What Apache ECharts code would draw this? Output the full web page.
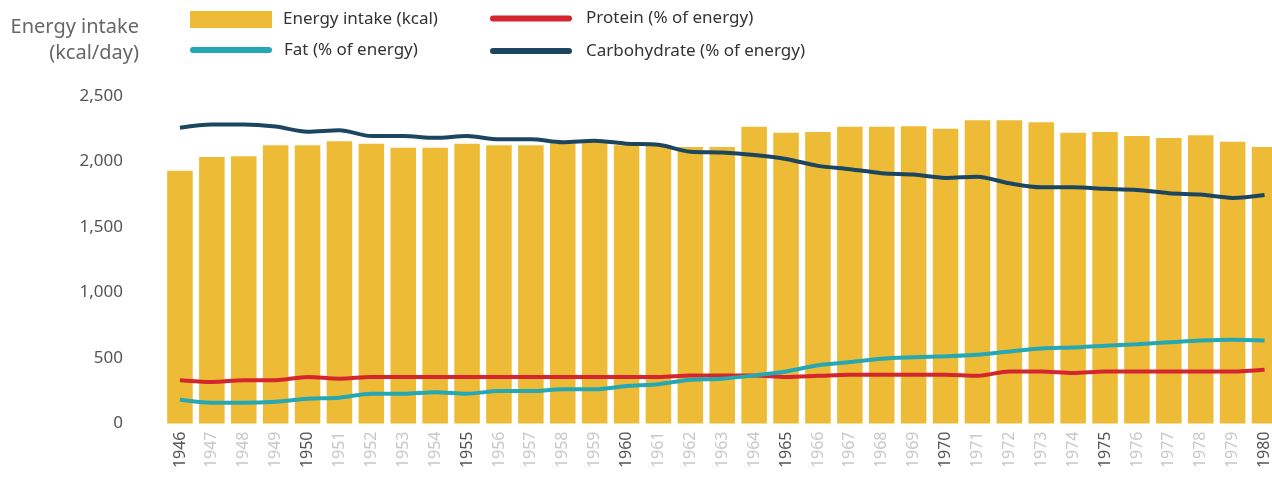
<!DOCTYPE html>
<html>
<head>
<meta charset="utf-8">
<script src="https://cdn.jsdelivr.net/npm/echarts@6/dist/echarts.min.js"></script>
<style>
html, body {margin: 0; padding: 0; background: #fff;}
#chart {width: 1272px; height: 491px;}
</style>
</head>
<body>
<div id="chart"></div>
<script>
// 年份
var years = ['1946', '1947', '1948', '1949', '1950', '1951', '1952', '1953', '1954', '1955',
    '1956', '1957', '1958', '1959', '1960', '1961', '1962', '1963', '1964', '1965',
    '1966', '1967', '1968', '1969', '1970', '1971', '1972', '1973', '1974', '1975',
    '1976', '1977', '1978', '1979', '1980'];
// kcal/day
var energy = [1930, 2035, 2040, 2125, 2125, 2155, 2135, 2105, 2105, 2135,
    2125, 2125, 2140, 2150, 2125, 2120, 2110, 2110, 2265, 2220,
    2225, 2265, 2265, 2270, 2250, 2315, 2315, 2300, 2220, 2225,
    2195, 2180, 2200, 2150, 2110];
// % of energy
var fat = [6.5, 5.7, 5.7, 6.0, 6.8, 7.1, 8.2, 8.2, 8.6, 8.2,
    8.9, 8.9, 9.4, 9.4, 10.3, 10.8, 12.0, 12.3, 13.2, 14.3,
    16.0, 16.9, 17.8, 18.2, 18.5, 18.9, 19.8, 20.6, 20.9, 21.4,
    21.8, 22.3, 22.8, 23.0, 22.8];
var protein = [11.9, 11.4, 11.9, 11.9, 12.8, 12.3, 12.8, 12.8, 12.8, 12.8,
    12.8, 12.8, 12.8, 12.8, 12.8, 12.8, 13.2, 13.2, 13.2, 12.8,
    13.1, 13.4, 13.4, 13.4, 13.4, 13.1, 14.3, 14.3, 13.9, 14.3,
    14.3, 14.3, 14.3, 14.3, 14.8];
var carbohydrate = [81.3, 82.2, 82.2, 81.6, 80.2, 80.6, 79.0, 79.0, 78.5, 79.0,
    78.1, 78.1, 77.3, 77.7, 76.9, 76.6, 74.7, 74.5, 73.8, 72.7,
    70.8, 69.9, 68.8, 68.4, 67.5, 67.8, 66.0, 64.9, 64.9, 64.5,
    64.2, 63.3, 62.9, 62.0, 62.8];

var FONT = '"Noto Sans", "Open Sans", sans-serif';
var pill = 'path://M3,0H79A3,3,0,0,1,79,6H3A3,3,0,0,1,3,0Z';

var chart = echarts.init(document.getElementById('chart'));

function legendText(padLeft, padBottom) {
    return {
        color: '#333',
        fontSize: 17,
        fontFamily: FONT,
        padding: [0, 0, padBottom, padLeft]
    };
}

var option = {
    animation: false,
    backgroundColor: '#fff',
    graphic: [
        {type: 'text', x: 139, y: 27, style: {text: 'Energy intake', align: 'right', verticalAlign: 'middle', font: '20px ' + FONT, fill: '#666'}},
        {type: 'text', x: 139, y: 53, style: {text: '(kcal/day)', align: 'right', verticalAlign: 'middle', font: '20px ' + FONT, fill: '#666'}}
    ],
    legend: [
        {data: ['Energy intake (kcal)'], left: 190, top: 11, padding: 0, itemWidth: 82, itemHeight: 17, icon: 'rect', textStyle: legendText(6, 0)},
        {data: ['Fat (% of energy)'], left: 190, top: 41.5, padding: 0, itemWidth: 82, itemHeight: 6, icon: pill, textStyle: legendText(7, 0)},
        {data: ['Protein (% of energy)'], left: 490, top: 10, padding: 0, itemWidth: 82, itemHeight: 6, icon: pill, textStyle: legendText(9, 10)},
        {data: ['Carbohydrate (% of energy)'], left: 490, top: 42.5, padding: 0, itemWidth: 82, itemHeight: 6, icon: pill, textStyle: legendText(9, 0)}
    ],
    // 最后一根柱子被画布右边缘裁掉
    grid: {left: 164, width: 1116.5, top: 96, bottom: 67.5, outerBoundsMode: 'none', containLabel: false},
    xAxis: {
        type: 'category',
        data: years,
        axisLine: {show: false},
        axisTick: {show: false},
        axisLabel: {
            rotate: 90,
            margin: 8,
            fontSize: 16,
            fontFamily: FONT,
            color: function (v, i) {
                return (i === 0 || +v % 5 === 0) ? '#555' : '#c8c8c8';
            }
        }
    },
    yAxis: [
        {
            type: 'value',
            min: 0,
            max: 2500,
            interval: 500,
            axisLine: {show: false},
            axisTick: {show: false},
            splitLine: {show: false},
            axisLabel: {
                margin: 41,
                fontSize: 17,
                fontFamily: FONT,
                color: '#555',
                formatter: function (v) {
                    return String(v).replace(/\B(?=(\d{3})+(?!\d))/g, ',');
                }
            }
        },
        {type: 'value', min: 0, max: 90, show: false}
    ],
    series: [
        {
            name: 'Energy intake (kcal)',
            type: 'bar',
            data: energy,
            barCategoryGap: '20%',
            itemStyle: {color: '#edbb35'}
        },
        {
            name: 'Protein (% of energy)',
            type: 'line',
            yAxisIndex: 1,
            data: protein,
            smooth: 0.3,
            showSymbol: false,
            itemStyle: {color: '#d4262e'},
            lineStyle: {width: 4, color: '#d4262e'}
        },
        {
            name: 'Fat (% of energy)',
            type: 'line',
            yAxisIndex: 1,
            data: fat,
            smooth: 0.3,
            showSymbol: false,
            itemStyle: {color: '#25a8b4'},
            lineStyle: {width: 4, color: '#25a8b4'}
        },
        {
            name: 'Carbohydrate (% of energy)',
            type: 'line',
            yAxisIndex: 1,
            data: carbohydrate,
            smooth: 0.3,
            showSymbol: false,
            itemStyle: {color: '#1c4660'},
            lineStyle: {width: 4, color: '#1c4660'}
        }
    ]
};

chart.setOption(option);
</script>
</body>
</html>
